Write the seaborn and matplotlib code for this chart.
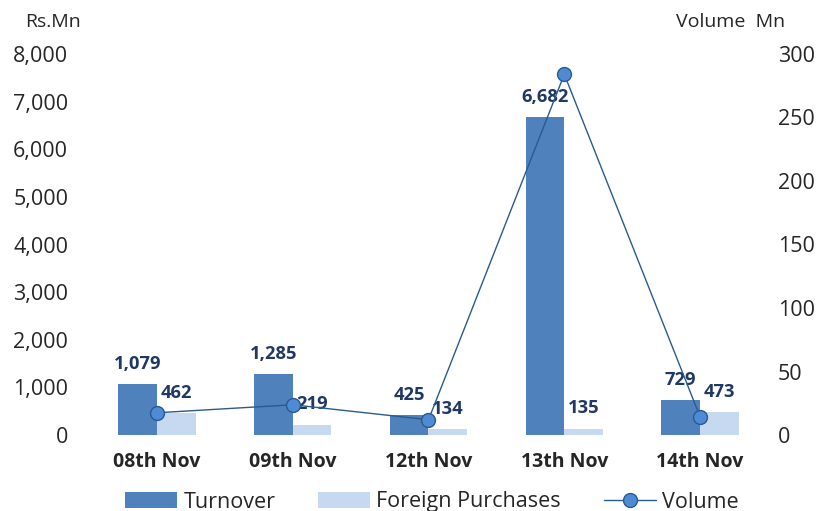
import matplotlib
matplotlib.use("Agg")
import matplotlib.pyplot as plt
import seaborn as sns
import pandas as pd
from matplotlib.patches import Patch
from matplotlib.lines import Line2D

dates = ["08th Nov", "09th Nov", "12th Nov", "13th Nov", "14th Nov"]
turnover = [1079, 1285, 425, 6682, 729]
foreign = [462, 219, 134, 135, 473]
volume = [17.5, 23.8, 12.0, 284.0, 14.3]
left_ticks = [0, 1000, 2000, 3000, 4000, 5000, 6000, 7000, 8000]
right_ticks = [0, 50, 100, 150, 200, 250, 300]

sns.set_theme(style="white")
plt.rcParams['font.family'] = ['Open Sans', 'DejaVu Sans']

c_turn = "#4F81BD"
c_for = "#C6D9F1"
c_line = "#2A5A8F"
c_mark = "#4F8AD4"
c_lab = "#1F3864"

df = pd.DataFrame({
    "Date": dates * 2,
    "Value": turnover + foreign,
    "Series": ["Turnover"] * 5 + ["Foreign Purchases"] * 5,
})

fig = plt.figure(figsize=(8.29, 5.11), dpi=100)
ax = fig.add_axes([89/829, 1-435/511, (768-89)/829, (435-54)/511])
sns.barplot(data=df, x="Date", y="Value", hue="Series", order=dates,
            hue_order=["Turnover", "Foreign Purchases"],
            palette=[c_turn, c_for], width=0.57, gap=0, ax=ax, legend=False,
            saturation=1, errorbar=None, linewidth=0)
ax.set_ylim(0, 8000)
ax.set_yticks(left_ticks)
ax.set_yticklabels([f"{v:,}" for v in left_ticks], fontsize=15.5)
ax.set_xlabel("")
ax.set_ylabel("")
ax.tick_params(axis="both", length=0)
ax.tick_params(axis="y", pad=15)
ax.tick_params(axis="x", pad=12)
for lbl in ax.get_xticklabels():
    lbl.set_fontweight("bold")
    lbl.set_fontsize(14)
for s in ax.spines.values():
    s.set_visible(False)

for cont in ax.containers:
    ax.bar_label(cont, labels=[f"{int(v):,}" for v in cont.datavalues],
                 padding=8, fontsize=13.2, fontweight="bold", color=c_lab)

ax2 = ax.twinx()
sns.lineplot(x=list(range(5)), y=volume, ax=ax2, color=c_line, linewidth=1.0,
             marker="o", markersize=10, markerfacecolor=c_mark,
             markeredgecolor=c_line, markeredgewidth=1.0)
ax2.set_ylim(0, 300)
ax2.set_yticks(right_ticks)
ax2.set_yticklabels([str(v) for v in right_ticks], fontsize=15.5)
ax2.tick_params(axis="y", length=0, pad=7)
ax2.set_ylabel("")
for s in ax2.spines.values():
    s.set_visible(False)
ax.set_xlim(-0.5, 4.5)

fig.text(53/829, 1-22/511, "Rs.Mn", fontsize=14, va="center", ha="center")
fig.text(731/829, 1-22/511, "Volume  Mn", fontsize=14, va="center", ha="center")

handles = [Patch(facecolor=c_turn, edgecolor="none"),
           Patch(facecolor=c_for, edgecolor="none"),
           Line2D([0], [0], color=c_line, linewidth=1.0, marker="o", markersize=10,
                  markerfacecolor=c_mark, markeredgecolor=c_line)]
fig.legend(handles, ["Turnover", "Foreign Purchases", "Volume"], loc="center",
           bbox_to_anchor=(432/829, 1-502/511), ncol=3, frameon=False, fontsize=15.5,
           handlelength=2.4, handleheight=0.7, columnspacing=2.0, handletextpad=0.3,
           borderpad=0.2)

fig.savefig("out.png", dpi=100)
